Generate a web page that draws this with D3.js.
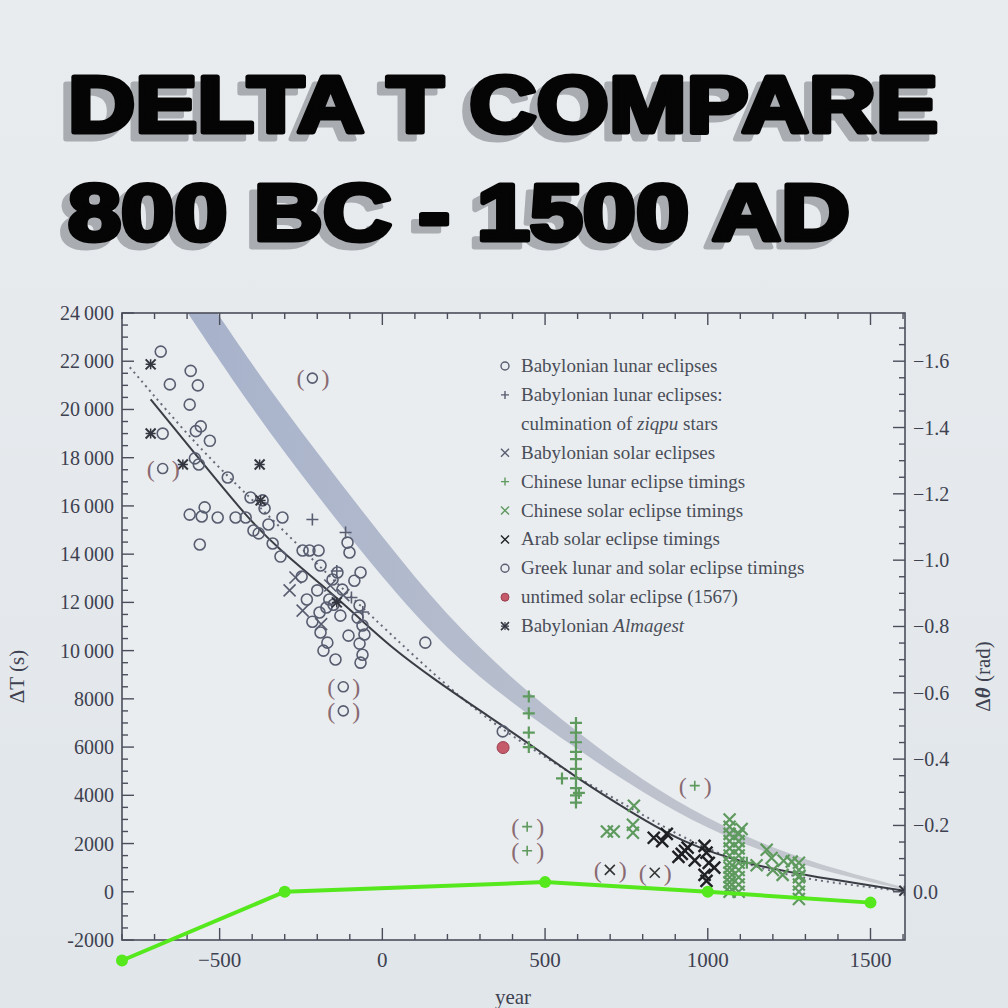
<!DOCTYPE html>
<html lang="en">
<head>
<meta charset="UTF-8">
<title>Delta T compare</title>
<script src="https://cdn.jsdelivr.net/npm/d3@7"></script>
<style>
  body { margin: 0; background: #e6eaee; }
  svg { display: block; }
</style>
</head>
<body>
<script>
var W = 1008, H = 1008;

// ---- data: [year, deltaT seconds] ----
var babLunar = [[-681,22400],[-653,21040],[-589,21600],[-567,21000],[-592,20200],[-675,19000],[-573,19100],
  [-558,19300],[-530,18700],[-576,17970],[-564,17720],[-475,17180],[-405,16350],[-368,16230],[-362,15900],
  [-307,15520],[-420,15520],[-451,15520],[-396,14980],[-350,15230],[-561,14400],[-592,15640],[-337,14440],
  [-380,14860],[-506,15520],[-546,15940],[-555,15560],[-313,13900],[-245,14150],[-224,14150],[-196,14150],
  [-107,14480],[-101,14070],[-248,13070],[-190,13530],[-153,12950],[-138,13240],[-86,12900],[-67,13240],
  [-123,12530],[-163,12120],[-172,11790],[-193,11580],[-129,11450],[-70,11870],[-76,11370],[-61,11040],
  [-104,10620],[-70,10290],[-55,10670],[-190,10750],[-169,10330],[-181,10000],[-144,9630],[-67,9500],
  [-61,9830],[132,10330],[-232,12120],[-200,12500],[-215,11200],[-150,11900],[370,6650]];
var babLunarZiqpu = [[-215,15440],[-113,14900],[-60,11600],[-140,13300],[-95,12200]];
var babSolar = [[-267,13030],[-285,12500],[-245,11660],[-188,11100],[-120,12300],[-160,12700]];
var chLunar = [[450,8100],[450,7400],[450,6600],[450,6000],[552,4700],[604,4100],
  [595,7000],[595,6600],[595,6200],[595,5800],[595,5500],[595,5100],[595,4700],[595,4300],[595,4000],[595,3700],[1120,1200]];
var chSolar = [[690,2500],[711,2500],[770,2780],[770,2450],[773,3570],[1104,2600],[1181,1740],[1196,1400],
  [1233,1290],[1258,1250],[1282,660],[1200,900],[1230,700],[1150,1100],
  [1067,3000],[1067,2700],[1067,2400],[1067,2100],[1067,1800],[1067,1500],[1067,1200],[1067,1000],[1067,800],[1067,600],[1067,400],[1067,200],[1067,0],
  [1095,2400],[1095,2100],[1095,1800],[1095,1500],[1095,1200],[1095,900],[1095,600],[1095,300],[1095,0],
  [1280,1200],[1280,900],[1280,600],[1280,300],[1280,0],[1280,-300]];
var arabSolar = [[874,2400],[834,2240],[920,1570],[930,1700],[938,1830],[910,1450],[990,1900],[996,1620],
  [1003,1200],[990,700],[1020,1000],[996,450],[960,1300],[860,2100]];
var untimed = [[371,5980]];
var almagest = [[-712,21870],[-712,19000],[-377,17720],[-374,16230],[-613,17720],[-140,12000],[1604,40]];
var bracketed = [["o",-215,21300],["o",-675,17550],["o",-120,8500],["o",-120,7500],
  ["+",960,4400],["+",445,2700],["+",445,1700],["x",699,910],["x",837,790]];

var solidFit = [[-712,20420],[-561,17930],[-408,15400],[-316,14190],[-184,12700],[-83,11500],[21,10200],
  [160,8800],[307,7450],[451,6150],[604,4650],[767,3280],[920,2050],[1125,1120],[1328,620],[1604,40]];
var dottedFit = [[-776,21750],[-561,18340],[-390,16140],[-184,13360],[0,11000],[160,9000],[307,7300],
  [451,6000],[604,4700],[767,3450],[920,2250],[1125,1050],[1328,450],[1604,20]];
var bandYears = [-600,-400,-200,0,200,400,600,800,1000,1200,1400,1600];
var bandLo = [24040,20000,16430,13000,10000,7800,5900,4100,2600,1500,700,100];
var bandHi = [25900,21800,18200,14700,11400,8800,6600,4600,3000,1800,900,200];

var greenYears = [-800,-300,500,1000,1500];
var greenVals = [-2850,0,400,0,-450];

var leftTicks = [-2000,0,2000,4000,6000,8000,10000,12000,14000,16000,18000,20000,22000,24000];
var rightTicks = [0,-0.2,-0.4,-0.6,-0.8,-1.0,-1.2,-1.4,-1.6];
var yearTicks = [-500,0,500,1000,1500];
var legendItems = ["Babylonian lunar eclipses","Babylonian lunar eclipses:","culmination of ziqpu stars",
  "Babylonian solar eclipses","Chinese lunar eclipse timings","Chinese solar eclipse timings",
  "Arab solar eclipse timings","Greek lunar and solar eclipse timings","untimed solar eclipse (1567)",
  "Babylonian Almagest"];

// ---- drawing ----
var svg = d3.select("body").append("svg").attr("width", W).attr("height", H);
var defs = svg.append("defs");
var bg = defs.append("linearGradient").attr("id","bg").attr("x1",0).attr("y1",0).attr("x2",0).attr("y2",1);
bg.append("stop").attr("offset","0%").attr("stop-color","#e9ecef");
bg.append("stop").attr("offset","100%").attr("stop-color","#e1e6ea");
svg.append("rect").attr("width",W).attr("height",H).attr("fill","url(#bg)");

// title with offset shadow
var titleLines = [["DELTA T COMPARE",132,870],["800 BC - 1500 AD",240,782]];
titleLines.forEach(function(t) {
  [[60,t[1]+7,"#a9acb1"],[68,t[1],"#050505"]].forEach(function(s){
    svg.append("text").attr("x",s[0]).attr("y",s[1]).text(t[0])
      .attr("font-family","Liberation Sans, Arial").attr("font-weight","bold").attr("font-size",80)
      .attr("textLength", t[2]).attr("lengthAdjust","spacingAndGlyphs")
      .attr("fill",s[2]).attr("stroke",s[2]).attr("stroke-width",5).attr("stroke-linejoin","round");
  });
});

var L = 122, R = 905, T = 313, B = 940;
var x = d3.scaleLinear().domain([-800,1606]).range([L,R]);
var y = d3.scaleLinear().domain([-2000,24000]).range([B,T]);
var yr = d3.scaleLinear().domain([2000*2*Math.PI/86400, -24000*2*Math.PI/86400]).range([B,T]);

svg.append("rect").attr("x",L).attr("y",T).attr("width",R-L).attr("height",B-T).attr("fill","#e9edf0");
defs.append("clipPath").attr("id","clip")
  .append("rect").attr("x",L).attr("y",T).attr("width",R-L).attr("height",B-T);
var plot = svg.append("g").attr("clip-path","url(#clip)");

var area = d3.area().x(function(d){return x(d[0]);}).y0(function(d){return y(d[1]);}).y1(function(d){return y(d[2]);})
  .curve(d3.curveBasis);
var bandGrad = defs.append("linearGradient").attr("id","band").attr("x1",0).attr("x2",1);
bandGrad.append("stop").attr("offset","0%").attr("stop-color","#a7b2cb");
bandGrad.append("stop").attr("offset","100%").attr("stop-color","#c8cace");
plot.append("path").datum(bandYears.map(function(v,i){return [v,bandLo[i],bandHi[i]];}))
  .attr("d",area).attr("fill","url(#band)");

var line = d3.line().x(function(d){return x(d[0]);}).y(function(d){return y(d[1]);}).curve(d3.curveBasis);
plot.append("path").datum(dottedFit).attr("d",line).attr("fill","none").attr("stroke","#666b78")
  .attr("stroke-width",2).attr("stroke-dasharray","2,4");
plot.append("path").datum(solidFit).attr("d",line).attr("fill","none").attr("stroke","#3a3d44").attr("stroke-width",2);

function marker(g, kind, color, s, sw) {
  if (kind === "o") g.append("circle").attr("r",s).attr("fill","none").attr("stroke",color).attr("stroke-width",sw);
  else {
    var p = kind === "+" ? "M"+(-s)+",0H"+s+"M0,"+(-s)+"V"+s
                        : "M"+(-s)+","+(-s)+"L"+s+","+s+"M"+(-s)+","+s+"L"+s+","+(-s);
    g.append("path").attr("d",p).attr("stroke",color).attr("stroke-width",sw);
  }
}
function scatter(data, kind, color, s, sw) {
  data.forEach(function(d) {
    var g = plot.append("g").attr("transform","translate("+x(d[0])+","+y(d[1])+")");
    marker(g, kind, color, s, sw);
  });
}
scatter(babLunar,"o","#585d70",5.5,1.6);
scatter(babLunarZiqpu,"+","#585d70",6,1.6);
scatter(babSolar,"x","#585d70",6,1.6);
scatter(chLunar,"+","#5e9a5e",6,2.2);
scatter(chSolar,"x","#5e9a5e",6,2.2);
scatter(arabSolar,"x","#1f2024",6,2.4);
untimed.forEach(function(d){
  plot.append("circle").attr("cx",x(d[0])).attr("cy",y(d[1])).attr("r",6).attr("fill","#c45a6a").attr("stroke","#9a4050");
});
almagest.forEach(function(d){
  var g = plot.append("g").attr("transform","translate("+x(d[0])+","+y(d[1])+")");
  marker(g,"x","#33363f",5,2); marker(g,"+","#33363f",5,1.5);
});
bracketed.forEach(function(d){
  var g = plot.append("g").attr("transform","translate("+x(d[1])+","+y(d[2])+")");
  marker(g, d[0], d[0]==="o" ? "#585d70" : (d[0]==="+" ? "#5e9a5e" : "#333"), 5, 1.6);
  g.append("text").attr("x",-16).attr("y",8).text("(").attr("font-family","Liberation Serif").attr("font-size",24).attr("fill","#8a6a72");
  g.append("text").attr("x",9).attr("y",8).text(")").attr("font-family","Liberation Serif").attr("font-size",24).attr("fill","#8a6a72");
});

// axes
var axisColor = "#4a4e5a";
svg.append("rect").attr("x",L).attr("y",T).attr("width",R-L).attr("height",B-T)
  .attr("fill","none").attr("stroke",axisColor).attr("stroke-width",1.6);
var tk = svg.append("g").attr("stroke",axisColor).attr("stroke-width",1.4);
d3.range(-2000,24001,500).forEach(function(v){
  var len = v % 2000 === 0 ? 12 : 6;
  tk.append("line").attr("x1",L).attr("x2",L+len).attr("y1",y(v)).attr("y2",y(v));
});
d3.range(0,-1.71,-0.05).forEach(function(v){
  var major = Math.abs(Math.round(v*100)) % 20 === 0;
  var len = major ? 12 : 6;
  if (yr(v) < T) return;
  tk.append("line").attr("x1",R).attr("x2",R-len).attr("y1",yr(v)).attr("y2",yr(v));
});
d3.range(-800,1601,100).forEach(function(v){
  var len = v % 500 === 0 ? 12 : 6;
  tk.append("line").attr("x1",x(v)).attr("x2",x(v)).attr("y1",B).attr("y2",B-len);
  tk.append("line").attr("x1",x(v)).attr("x2",x(v)).attr("y1",T).attr("y2",T+len);
});

var font = "Liberation Serif, serif";
var fmtL = function(v){ var s = String(Math.abs(v)); if (Math.abs(v) >= 10000) s = s.slice(0,2)+"\u2009"+s.slice(2); return (v<0?"-":"")+s; };
svg.append("g").selectAll("text").data(leftTicks).enter().append("text")
  .attr("x",L-8).attr("y",function(d){return y(d)+7;}).attr("text-anchor","end")
  .attr("font-family",font).attr("font-size",20).attr("fill","#3d4150").text(fmtL);
svg.append("g").selectAll("text").data(rightTicks).enter().append("text")
  .attr("x",R+8).attr("y",function(d){return yr(d)+7;})
  .attr("font-family",font).attr("font-size",20).attr("fill","#3d4150")
  .text(function(d){ return d === 0 ? "0.0" : "\u2212" + Math.abs(d).toFixed(1); });
svg.append("g").selectAll("text").data(yearTicks).enter().append("text")
  .attr("x",function(d){return x(d);}).attr("y",B+27).attr("text-anchor","middle")
  .attr("font-family",font).attr("font-size",21).attr("fill","#3d4150")
  .text(function(d){ return d < 0 ? "\u2212"+Math.abs(d) : d; });
svg.append("text").attr("x",513).attr("y",1004).attr("text-anchor","middle").attr("font-family",font)
  .attr("font-size",21).attr("fill","#3d4150").text("year");
svg.append("text").attr("transform","translate(24,"+((T+B)/2+50)+") rotate(-90)").attr("text-anchor","middle")
  .attr("font-family",font).attr("font-size",21).attr("fill","#3d4150").text("\u0394T (s)");
var rl = svg.append("text").attr("transform","translate(990,"+((T+B)/2+50)+") rotate(-90)").attr("text-anchor","middle")
  .attr("font-family",font).attr("font-size",21).attr("fill","#3d4150");
rl.append("tspan").text("\u0394");
rl.append("tspan").attr("font-style","italic").attr("font-weight","bold").text("\u03b8");
rl.append("tspan").text(" (rad)");

// legend
var legMarkers = [["o","#585d70"],["+","#585d70"],null,["x","#585d70"],["+","#5e9a5e"],["x","#5e9a5e"],
  ["x","#1f2024"],["o","#585d70"],["u","#c45a6a"],["a","#33363f"]];
legendItems.forEach(function(txt,i){
  var yy = 366 + i*28.9;
  var m = legMarkers[i];
  if (m) {
    var g = svg.append("g").attr("transform","translate(505,"+yy+")");
    if (m[0]==="u") g.append("circle").attr("r",4).attr("fill","#c45a6a").attr("stroke","#9a4050");
    else if (m[0]==="a") { marker(g,"x",m[1],4,1.6); marker(g,"+",m[1],4,1.2); }
    else marker(g,m[0],m[1],4,1.4);
  }
  var t = svg.append("text").attr("x",521).attr("y",yy+6).attr("font-family",font).attr("font-size",19).attr("fill","#4a4d58");
  if (i === 2) { t.append("tspan").text("culmination of "); t.append("tspan").attr("font-style","italic").text("ziqpu"); t.append("tspan").text(" stars"); }
  else if (i === 9) { t.append("tspan").text("Babylonian "); t.append("tspan").attr("font-style","italic").text("Almagest"); }
  else t.text(txt);
});

// green overlay
var gpts = greenYears.map(function(v,i){return [v,greenVals[i]];});
svg.append("path").datum(gpts).attr("d",d3.line().x(function(d){return x(d[0]);}).y(function(d){return y(d[1]);}))
  .attr("fill","none").attr("stroke","#55e81c").attr("stroke-width",4);
svg.selectAll(".gdot").data(gpts).enter().append("circle").attr("cx",function(d){return x(d[0]);})
  .attr("cy",function(d){return y(d[1]);}).attr("r",6).attr("fill","#55e81c");
</script>
</body>
</html>
